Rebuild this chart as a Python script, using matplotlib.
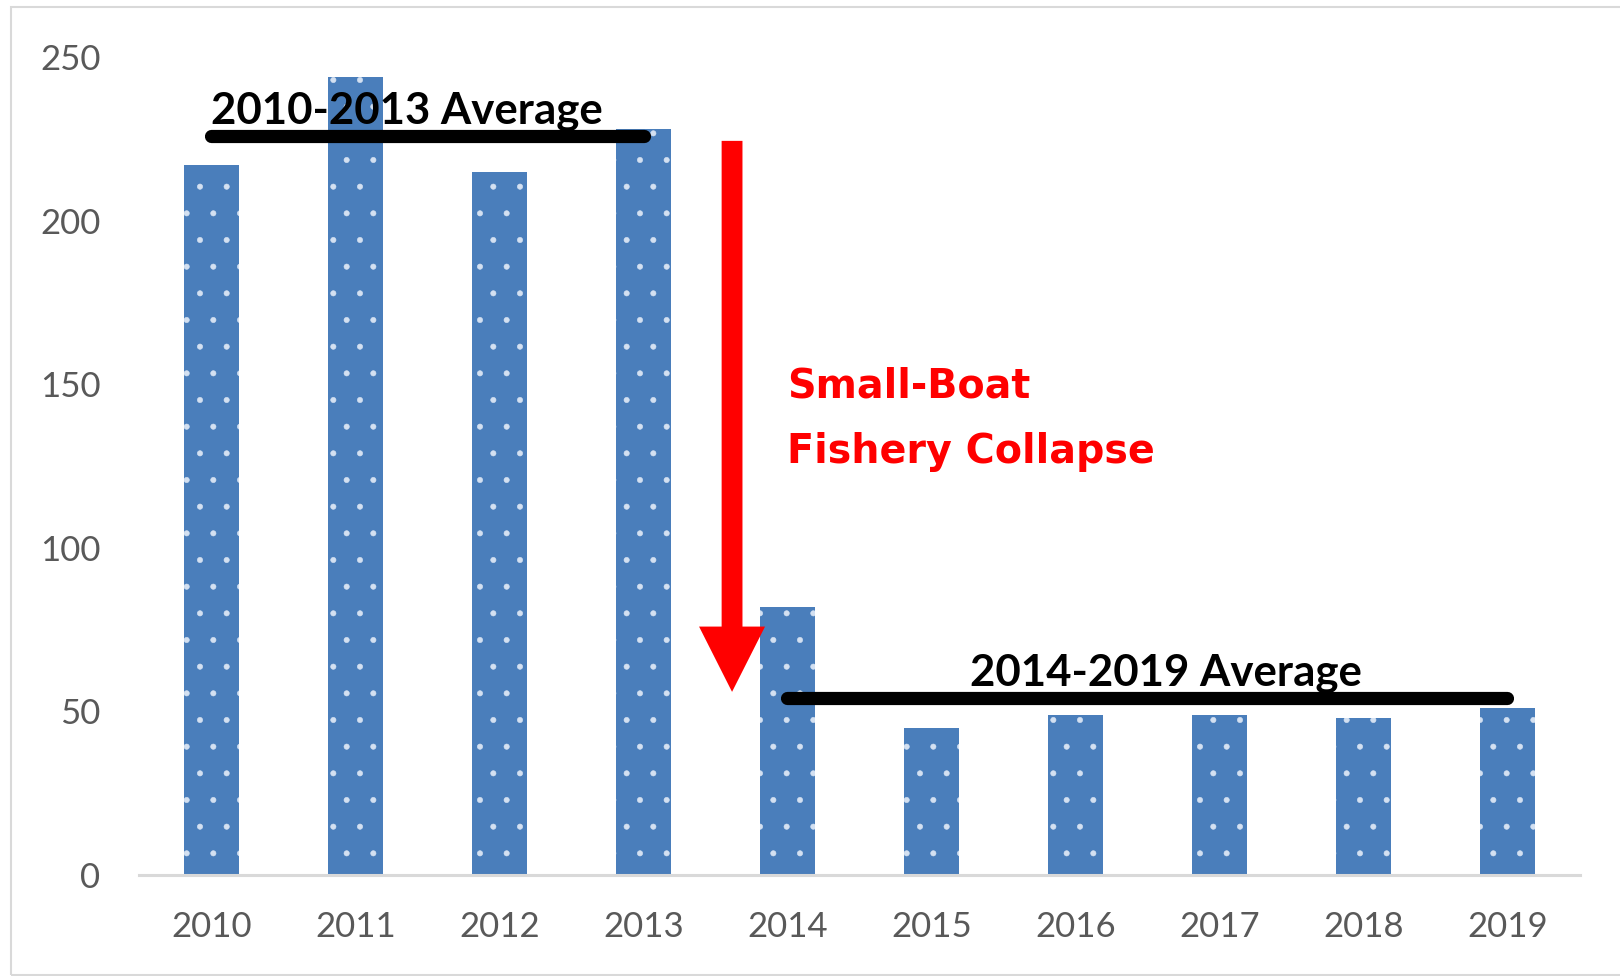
import numpy as np
import matplotlib
matplotlib.use("Agg")
import matplotlib.pyplot as plt
from matplotlib.patches import FancyArrowPatch, Rectangle

# Annual values, 2010-2019
years = ["2010", "2011", "2012", "2013", "2014",
         "2015", "2016", "2017", "2018", "2019"]
values = [217, 244, 215, 228, 82, 45, 49, 49, 48, 51]

early_label = "2010-2013 Average"
late_label = "2014-2019 Average"
collapse_lines = ["Small-Boat", "Fishery Collapse"]

yticks = [0, 50, 100, 150, 200, 250]

BAR_BLUE = "#4a7ebb"
TICK_GRAY = "#595959"

DPI = 160
PT = 100.0 / DPI  # sizes below are written for a 100-dpi canvas

plt.rcParams["hatch.linewidth"] = 0.25

fig = plt.figure(figsize=(1620 / DPI, 976 / DPI), dpi=DPI)
ax = fig.add_axes([0.0861, 0.1035, 0.8889, 0.8376])

x = np.arange(len(years))
ax.bar(x, values, width=0.38, color=BAR_BLUE, edgecolor="#d3e0f1",
       linewidth=0, hatch=".", zorder=1)

ax.set_xlim(-0.5, len(years) - 0.5)
ax.set_ylim(0, 250)
ax.set_yticks(yticks)
ax.set_xticks(x)
ax.set_xticklabels(years)

for side in ("top", "right", "left"):
    ax.spines[side].set_visible(False)
ax.spines["bottom"].set_color("#d9d9d9")
ax.spines["bottom"].set_linewidth(2.2 * PT)
ax.spines["bottom"].set_zorder(3)

ax.tick_params(axis="both", length=0, labelcolor=TICK_GRAY, labelsize=25 * PT)
ax.tick_params(axis="y", pad=28 * PT)
ax.tick_params(axis="x", pad=26 * PT)
for lab in ax.get_xticklabels() + ax.get_yticklabels():
    lab.set_family("Lato")

# Period averages
early_mean = float(np.mean(values[:4]))
late_mean = float(np.mean(values[4:]))

ax.plot([-0.005, 3.005], [early_mean, early_mean], color="black", lw=9.5 * PT,
        solid_capstyle="round", zorder=4, clip_on=False)
ax.plot([3.995, 9.0], [late_mean, late_mean], color="black", lw=9.5 * PT,
        solid_capstyle="round", zorder=4, clip_on=False)

ax.text(0.0, 229.7, early_label, family="Lato", weight="bold", fontsize=31.5 * PT,
        color="black", ha="left", va="baseline", zorder=5)
ax.text(5.27, 57.8, late_label, family="Lato", weight="bold", fontsize=31.5 * PT,
        color="black", ha="left", va="baseline", zorder=5)

# Drop arrow between the two periods
arrow = FancyArrowPatch(
    (3.615, 224.5), (3.615, 56),
    arrowstyle="simple,head_length=%.2f,head_width=%.2f,tail_width=%.2f"
    % (47 * PT, 47.5 * PT, 15 * PT),
    mutation_scale=1, color="#ff0000", lw=0,
    shrinkA=0, shrinkB=0, zorder=4)
ax.add_patch(arrow)

ax.text(4.0, 146.0, collapse_lines[0], family="DejaVu Sans", weight="bold",
        fontsize=28.5 * PT, color="#ff0000", ha="left", va="baseline", zorder=5)
ax.text(4.0, 126.0, collapse_lines[1], family="DejaVu Sans", weight="bold",
        fontsize=28.5 * PT, color="#ff0000", ha="left", va="baseline", zorder=5)

# Chart-area border
fig.add_artist(Rectangle((0.0065, 0.001), 1.1, 0.9915, transform=fig.transFigure,
                         fill=False, edgecolor="#d9d9d9", linewidth=1.5 * PT))

fig.savefig("out.png", dpi=DPI, facecolor="white")
